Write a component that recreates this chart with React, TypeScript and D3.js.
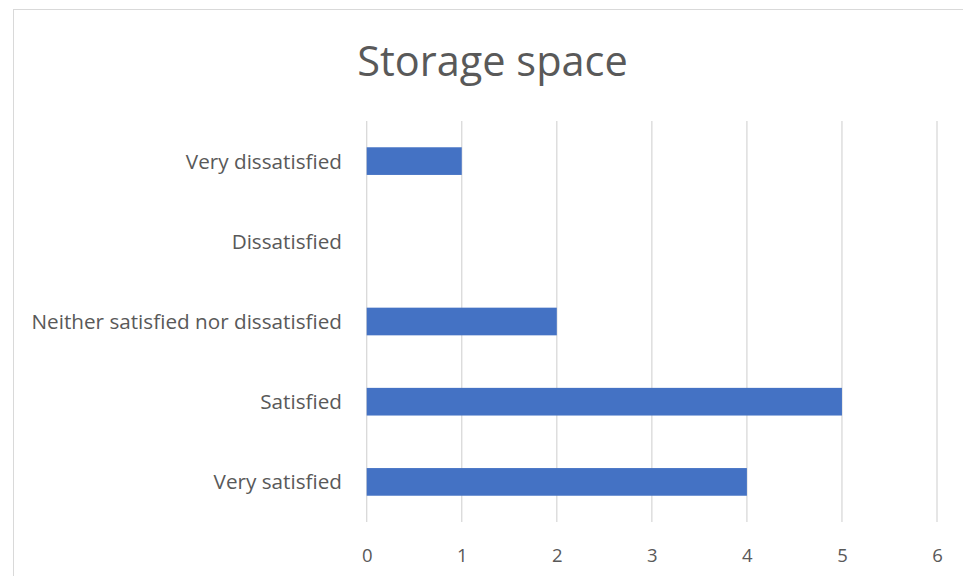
import { axisBottom, format, scaleBand, scaleLinear, select } from 'd3'
import { useEffect, useRef } from 'react'

const categories = ['Very dissatisfied', 'Dissatisfied', 'Neither satisfied nor dissatisfied', 'Satisfied', 'Very satisfied']
const counts = [1, 0, 2, 5, 4]
const xTicks = [0, 1, 2, 3, 4, 5, 6]

const W = 963
const H = 576
const FONT = '"Open Sans", sans-serif'

export default function App() {
  const svgRef = useRef<SVGSVGElement | null>(null)

  useEffect(() => {
    if (!svgRef.current) return
    const svg = select(svgRef.current)
    svg.selectAll('*').remove()

    // chart frame
    svg.append('rect')
      .attr('x', 13.5).attr('y', 9.5)
      .attr('width', W).attr('height', H)
      .attr('fill', '#fff').attr('stroke', '#d9d9d9')

    svg.append('text')
      .attr('x', 492.5).attr('y', 76)
      .attr('text-anchor', 'middle')
      .attr('font-family', FONT).attr('font-size', 41.5)
      .attr('fill', '#595959')
      .text('Storage space')

    const x = scaleLinear().domain([0, 6]).range([366.7, 937])
    const y = scaleBand().domain(categories).range([121, 522])
      .paddingInner(0.655).paddingOuter(0.3275)

    // grid
    svg.append('g')
      .selectAll('line')
      .data(xTicks)
      .join('line')
      .attr('x1', d => x(d)).attr('x2', d => x(d))
      .attr('y1', 121).attr('y2', 522)
      .attr('stroke', '#d9d9d9').attr('stroke-width', 1.3)

    svg.append('g')
      .selectAll('rect')
      .data(counts)
      .join('rect')
      .attr('x', x(0))
      .attr('y', (_, i) => y(categories[i]) ?? 0)
      .attr('width', d => x(d) - x(0))
      .attr('height', y.bandwidth())
      .attr('fill', '#4472c4')

    const xAxis = axisBottom(x).tickValues(xTicks).tickFormat(format('d')).tickSize(0).tickPadding(0)
    const gx = svg.append('g')
      .attr('transform', 'translate(0, 555)')
      .call(xAxis)
    gx.select('.domain').remove()
    gx.selectAll('text')
      .attr('font-family', FONT).attr('font-size', 18.5)
      .attr('fill', '#595959')
      .attr('dy', '0.36em')

    svg.append('g')
      .selectAll('text')
      .data(categories)
      .join('text')
      .attr('x', 342)
      .attr('y', d => (y(d) ?? 0) + y.bandwidth() / 2)
      .attr('dy', '0.36em')
      .attr('text-anchor', 'end')
      .attr('font-family', FONT).attr('font-size', 20.7)
      .attr('fill', '#595959')
      .text(d => d)
  }, [])

  return (
    <svg ref={svgRef} width={W} height={H}
      style={{ position: 'absolute', left: 0, top: 0, display: 'block' }} />
  )
}
